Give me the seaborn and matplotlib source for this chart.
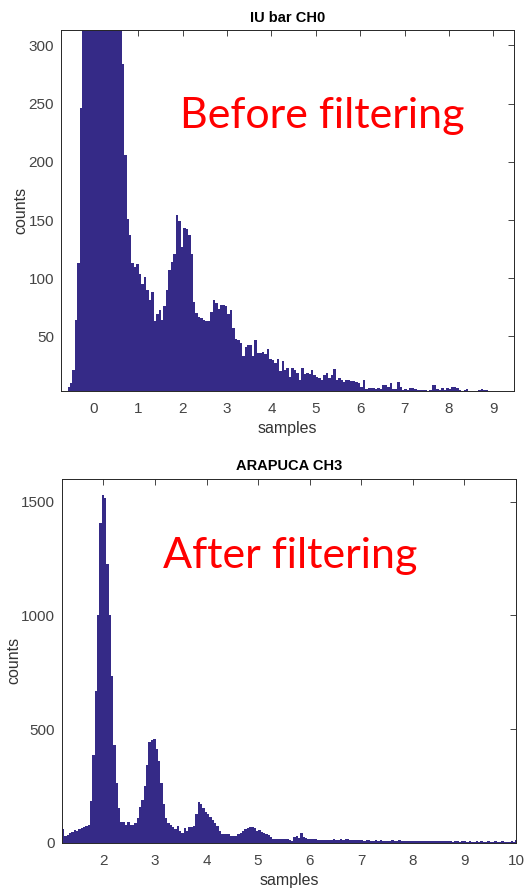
import numpy as np
import pandas as pd
import seaborn as sns
import matplotlib.pyplot as plt

# ---- data ----
# top panel: IU bar CH0 (before filtering)
ch0_start, ch0_stop = -0.593, 8.99
ch0_counts = [7, 10, 21, 64, 113, 246,
              330, 420, 520, 600, 650, 680, 690, 670, 640, 600, 560, 500, 450, 400, 350, 320,
              284, 206, 151, 137, 113, 110, 112,
              104, 95, 101, 90, 81, 88, 63, 69, 73, 64,
              76, 90, 107, 114, 121, 154, 149, 127, 143, 142,
              137, 121, 80, 70, 67, 66, 64, 63, 63, 71,
              81, 79, 74, 77, 77, 76, 69, 73, 57, 48,
              47, 44, 33, 41, 43, 43, 33, 47, 36, 36,
              37, 35, 39, 31, 30, 27, 31, 20, 29, 21,
              23, 15, 23, 21, 19, 13, 23, 18, 19, 18,
              21, 17, 15, 14, 13, 17, 19, 14, 17, 22,
              13, 14, 13, 11, 13, 13, 12, 12, 11, 10,
              7, 13, 5, 6, 6, 6, 5, 6, 5, 8,
              8, 7, 10, 5, 5, 11, 7, 4, 5, 4,
              6, 6, 5, 4, 4, 4, 4, 2, 4, 8,
              8, 5, 4, 6, 4, 6, 5, 7, 7, 6,
              4, 3, 4, 5, 3, 3, 3, 3, 4, 5,
              4, 4, 2, 2]
ch0_xticks = [0, 1, 2, 3, 4, 5, 6, 7, 8, 9]
ch0_yticks = [50, 100, 150, 200, 250, 300]

# bottom panel: ARAPUCA CH3 (after filtering)
ch3_start, ch3_stop = 1.2, 10.03
ch3_counts = [59, 30, 36, 42, 48, 55, 50, 62, 66, 70, 72, 80,
              183, 385, 669, 1000, 1406, 1530, 1516, 1227, 1000, 735, 429, 263, 151, 92,
              91, 78, 92, 78, 80, 88, 110,
              159, 188, 249, 344, 441, 452, 456, 412, 358, 263, 169, 110,
              88, 80, 69, 61, 73, 51, 44, 66, 51, 69, 70, 73,
              125, 180, 169, 151, 137, 125, 113, 102, 88, 73, 51,
              37, 40, 37, 37, 29, 29, 29, 37,
              44, 51, 61, 66, 69, 69, 66, 51, 56, 48, 44, 37, 34, 25,
              18, 15, 15, 15, 19, 18, 15, 13, 10,
              25, 29, 22, 44, 25, 22, 19,
              17, 15, 16, 14, 13, 12, 14, 11, 12, 13, 15, 12, 14, 16,
              13, 15, 17, 14, 13, 12, 11, 13, 12, 10, 11, 12, 10, 9,
              11, 10, 12, 9, 10, 8, 9, 11, 8, 9, 14, 8, 9, 7, 8, 10,
              7, 8, 9, 6, 7, 8, 7, 6, 9, 7, 6, 7, 8, 6, 10, 6, 7, 5,
              6, 7, 5, 6, 8, 5, 6, 5, 4, 6, 5, 7, 5, 4, 6, 5, 4, 8,
              5, 4, 6, 5, 5, 4, 6, 5, 14]
ch3_xticks = [2, 3, 4, 5, 6, 7, 8, 9, 10]
ch3_yticks = [0, 500, 1000, 1500]

bar_color = '#352a87'   # matlab parula(1)

sns.set_style('white')
plt.rcParams['font.family'] = ['Liberation Sans', 'DejaVu Sans']

fig = plt.figure(figsize=(5.26, 8.90), dpi=100)
ax1 = fig.add_axes([0.116, 0.561, 0.861, 0.405])
ax2 = fig.add_axes([0.118, 0.053, 0.863, 0.409])


def draw_hist(ax, start, stop, counts):
    edges = np.linspace(start, stop, len(counts) + 1)
    df = pd.DataFrame({'x': (edges[:-1] + edges[1:]) / 2, 'n': counts})
    sns.histplot(data=df, x='x', weights='n', bins=list(edges), ax=ax,
                 color=bar_color, alpha=1, linewidth=0, edgecolor=bar_color)


def matlab_axes(ax, title, xticks, yticks):
    ax.set_title(title, fontsize=10.5, fontweight='bold', color='black', pad=6)
    ax.set_xlabel('samples', fontsize=11.5, color='#333333', labelpad=4)
    ax.set_ylabel('counts', fontsize=11.5, color='#333333', labelpad=0)
    ax.set_xticks(xticks)
    ax.set_yticks(yticks)
    ax.tick_params(direction='in', top=True, right=True, length=4, width=0.6,
                   labelsize=11, labelcolor='#444444', color='#262626')
    ax.tick_params(axis='x', pad=8)
    ax.tick_params(axis='y', pad=5)
    for sp in ax.spines.values():
        sp.set_color('#262626')
        sp.set_linewidth(0.7)


draw_hist(ax1, ch0_start, ch0_stop, ch0_counts)
ax1.set_xlim(-0.74, 9.46)
ax1.set_ylim(3.4, 313)
matlab_axes(ax1, 'IU bar CH0', ch0_xticks, ch0_yticks)
ax1.text(0.263, 0.729, 'Before filtering', transform=ax1.transAxes,
         color='red', fontsize=31, family='Lato', va='baseline', ha='left')

draw_hist(ax2, ch3_start, ch3_stop, ch3_counts)
ax2.set_xlim(1.2, 10.0)
ax2.set_ylim(0, 1600)
matlab_axes(ax2, 'ARAPUCA CH3', ch3_xticks, ch3_yticks)
ax2.text(0.222, 0.755, 'After filtering', transform=ax2.transAxes,
         color='red', fontsize=31, family='Lato', va='baseline', ha='left')

fig.savefig('out.png', dpi=100)
